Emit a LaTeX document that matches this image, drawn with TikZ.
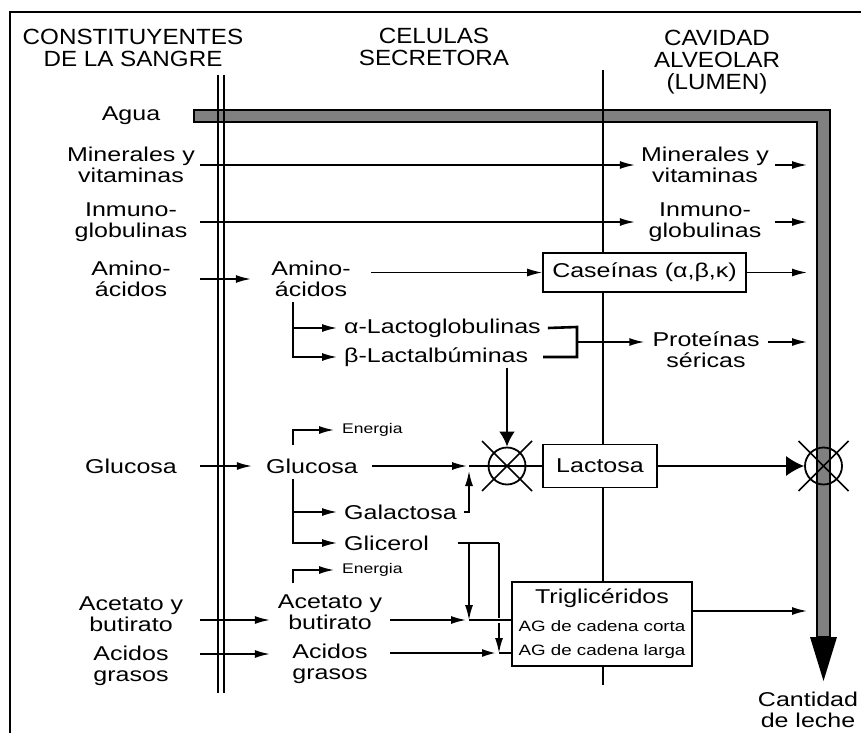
\documentclass[tikz,border=0pt]{standalone}
\usepackage{fontspec}
\setmainfont{Liberation Sans}
\newfontfamily\bodyfont{Liberation Sans}[FakeStretch=1.25]
\newfontfamily\headfont{Liberation Sans}[FakeStretch=1.1]
\usetikzlibrary{arrows.meta,positioning}
\definecolor{bargray}{gray}{0.5}

\begin{document}
\begin{tikzpicture}[x=1pt, y=-1pt,
    txt/.style={font=\bodyfont\fontsize{20}{21}\selectfont, align=center, inner sep=1pt},
    lcol/.style={txt, minimum width=138pt},
    mcol/.style={txt, minimum width=120pt},
    rcol/.style={txt, minimum width=140pt},
    sub/.style={txt, anchor=west, inner xsep=7pt},
    small/.style={font=\bodyfont\fontsize{14}{15}\selectfont, anchor=west, inner xsep=8pt, inner ysep=1pt},
    head/.style={font=\headfont\fontsize{22}{22}\selectfont, align=center, inner sep=0pt},
    pool/.style={draw, fill=white, line width=1.6pt, inner sep=0pt, font=\bodyfont\fontsize{20}{21}\selectfont},
    mixer/.style={circle, draw, line width=1.8pt, minimum size=37pt, inner sep=0pt},
    flow/.style={-{Latex[length=15pt,width=8pt]}, line width=1.5pt},
    heavy/.style={flow, line width=2.6pt},
    wall/.style={line width=1.6pt}]
    \useasboundingbox (0,0) rectangle (861,733);

    % Frame
    \draw [line width=1.5pt] (10,733) -- (10,12) -- (861,12);

    % Headings
    \node [head] (hsangre) at (133,48) {CONSTITUYENTES\\DE LA SANGRE};
    \node [head] (hcelula) at (434,47) {CELULAS\\SECRETORA};
    \node [head] (hlumen) at (717,62) {CAVIDAD\\ALVEOLAR\\(LUMEN)};

    % Water channel into the lumen
    \coordinate (lum) at (807,0);
    \filldraw [fill=bargray, draw=black, line width=1.3pt] (194,110) -- (830,110) -- (830,637) -- (817,637) -- (817,122) -- (194,122) -- cycle;
    \fill (810,637) -- (837,637) -- (823.5,681) -- cycle;

    % Membranes
    \draw [wall] (218,75) -- (218,693);
    \draw [wall] (224,75) -- (224,693);
    \draw [wall] (603,70) -- (603,685);

    % Blood
    \node [lcol] (agua) at (131,116) {Agua};
    \node [lcol] (minL) at (131,165) {Minerales y\\vitaminas};
    \node [lcol] (inmL) at (131,222) {Inmuno-\\globulinas};
    \node [lcol] (aminL) at (131,279) {Amino-\\ácidos};
    \node [lcol] (glucL) at (131,466) {Glucosa};
    \node [lcol] (acetL) at (131,614) {Acetato y\\butirato};
    \node [lcol] (acidL) at (131,666) {Acidos\\grasos};

    % Secretory cell
    \node [mcol] (aminM) at (311,279) {Amino-\\ácidos};
    \node [sub] (lacA) at (337,328) {α-Lactoglobulinas};
    \node [sub] (betA) at (337,357) {β-Lactalbúminas};
    \node [small] (ener1) at (334,430) {Energia};
    \node [mcol] (glucM) at (312,466) {Glucosa};
    \node [sub] (gal) at (337,512) {Galactosa};
    \node [sub] (gli) at (337,543) {Glicerol};
    \node [small] (ener2) at (334,570) {Energia};
    \node [mcol] (acetM) at (330,612) {Acetato y\\butirato};
    \node [mcol] (acidM) at (330,664) {Acidos\\grasos};

    % Lumen
    \node [rcol] (minR) at (705,165) {Minerales y\\vitaminas};
    \node [rcol] (inmR) at (705,222) {Inmuno-\\globulinas};
    \node [pool, minimum width=203pt, minimum height=39pt] (cas) at (644.5,272.5) {Caseínas (α,β,κ)};
    \node [txt, inner xsep=8pt] (prot) at (706,350) {Proteínas\\séricas};
    \node [pool, minimum width=114pt, minimum height=43pt] (lac) at (600,466) {Lactosa};
    \node [pool, minimum width=180pt, minimum height=84pt, align=center, font=\bodyfont\fontsize{15}{24}\selectfont] (tri) at (602,624)
        {{\fontsize{20}{24}\selectfont Triglicéridos}\\[4pt]AG de cadena corta\\AG de cadena larga};
    \node [mixer] (mix1) at (507,466) {};
    \node [mixer] (mix2) at (823.5,466) {};
    \node [txt] (leche) at (808,710) {Cantidad\\de leche};

    % Junctions
    \coordinate (trA) at (293,302);
    \coordinate (trG) at (293,479);
    \coordinate (hkG) at (293,445);
    \coordinate (hkA) at (293,583);
    \coordinate (brkT) at (577,327);
    \coordinate (brkB) at (577,357);
    \coordinate (brk) at (577,342);
    \coordinate (jG) at (469,466);
    \coordinate (gA) at (469,543);
    \coordinate (gB) at (499,543);
    \coordinate (jA) at (469,620);
    \coordinate (jB) at (499,653);
    \coordinate (rLc) at ([yshift=-6pt]acetL.east);
    \coordinate (rLd) at ([yshift=12pt]acidL.east);
    \coordinate (rAm) at ([yshift=-8pt]acetM.east);
    \coordinate (rAd) at ([yshift=11pt]acidM.east);
    \coordinate (rT) at ([yshift=13pt]tri.east);

    % Arrows
    \draw [flow] (minL) -- (minR);
    \draw [flow] (inmL) -- (inmR);
    \draw [flow] (aminL) -- (aminM);
    \draw [flow] (glucL) -- (glucM);
    \draw [flow] (rLc) -- (rLc -| acetM.west);
    \draw [flow] (rLd) -- (rLd -| acidM.west);
    \draw [flow] (minR) -- (minR -| lum);
    \draw [flow] (inmR) -- (inmR -| lum);

    % Proteins
    \draw [flow] (aminM.east |- cas) -- (cas);
    \draw [flow] (cas) -- (cas -| lum);
    \draw [flow] (trA) |- (lacA);
    \draw [flow] (trA) |- (betA);
    \draw [line width=2.6pt] (lacA.east) -- (brkT) -- (brkB) -- ++(-34,0);
    \draw [flow] (brk) -- (brk -| prot.west);
    \draw [flow] (prot.east |- brk) -- (lum |- brk);
    \draw [-{Latex[length=15pt,width=16pt]}, line width=2.6pt] (betA.south -| mix1) -- (mix1);

    % Lactose
    \draw [flow] (hkG) |- (ener1);
    \draw [flow, shorten >=2pt] (glucM) -- (jG);
    \draw [flow] (trG) |- (gal);
    \draw [flow] (trG) |- (gli);
    \draw [flow, shorten >=5pt] (gal.east) -| (jG);
    \draw [line width=1.5pt] (jG) -- (lac);
    \draw [line width=1.5pt] (mix1.center) +(-25,-25) -- +(25,25) +(-25,25) -- +(25,-25);
    \draw [-{Latex[length=18pt,width=20pt]}, line width=1.5pt] (lac) -- (mix2);
    \draw [line width=1.5pt] (mix2.center) +(-25,-25) -- +(25,25) +(-25,25) -- +(25,-25);

    % Fat
    \draw [flow] (hkA) |- (ener2);
    \draw [line width=1.5pt, shorten <=22pt] (gli.east) -- (gB);
    \draw [flow] (gB) -- (jB);
    \draw [line width=1.5pt, preaction={draw=white, line width=5pt}] (jA) -- (jA -| tri.west);
    \draw [flow] (gA) -- (jA);
    \draw [flow, shorten >=3pt] (rAm) -- (jA);
    \draw [heavy, shorten >=2pt] (rAd) -- (jB);
    \draw [line width=1.5pt] (jB) -- (jB -| tri.west);
    \draw [flow] (rT) -- (rT -| lum);
\end{tikzpicture}
\end{document}
